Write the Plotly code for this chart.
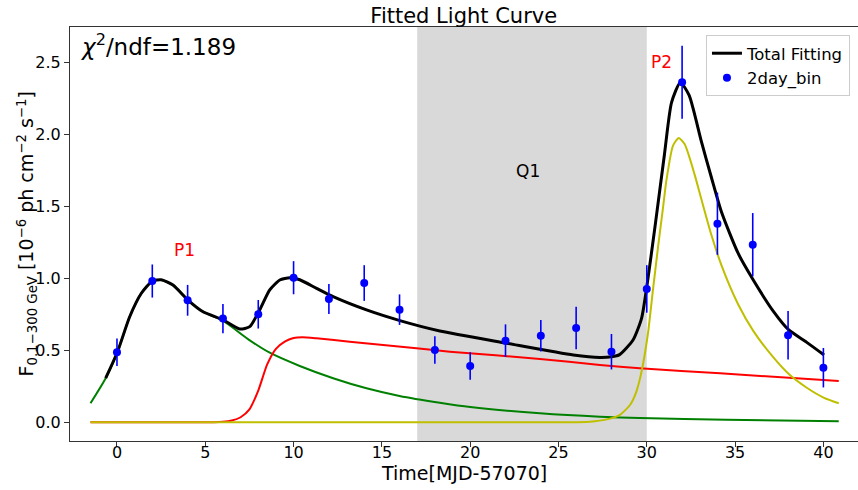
import plotly.graph_objects as go

# ---- data ----
bin_t = [0, 2, 4, 6, 8, 10, 12, 14, 16, 18, 20, 22, 24, 26, 28, 30, 32, 34, 36, 38, 40]
bin_flux = [0.486, 0.981, 0.847, 0.720, 0.750, 1.004, 0.856, 0.967, 0.782, 0.502, 0.391,
            0.567, 0.601, 0.655, 0.490, 0.926, 2.361, 1.379, 1.233, 0.604, 0.379]
bin_err = [0.095, 0.115, 0.107, 0.102, 0.099, 0.115, 0.104, 0.124, 0.106, 0.096, 0.096,
           0.113, 0.110, 0.147, 0.123, 0.165, 0.254, 0.216, 0.220, 0.168, 0.137]

p1_t = [-1.5, -0.64, 0.02, 0.72, 1.38, 2.0, 2.5, 3.17, 4.02, 4.87, 6.0, 7.52, 8.65,
        10.35, 12.24, 14.13, 16.0, 18.28, 20.0, 23.95, 27.35, 29.6, 34.5, 40.87]
p1_flux = [0.132, 0.306, 0.486, 0.733, 0.896, 0.981, 0.988, 0.953, 0.849, 0.768, 0.705,
           0.569, 0.483, 0.391, 0.306, 0.236, 0.183, 0.136, 0.106, 0.0625, 0.039, 0.030,
           0.018, 0.007]

q_t = [-1.5, 5.5, 6.0, 6.5, 7.0, 7.5, 8.0, 8.5, 9.0, 9.5, 10.0, 10.5, 11.3, 13.18,
       16.96, 18.85, 23.95, 27.35, 29.6, 34.15, 40.87]
q_flux = [0.0, 0.0, 0.003, 0.012, 0.035, 0.09, 0.22, 0.40, 0.51, 0.56, 0.585, 0.59, 0.583,
          0.560, 0.514, 0.490, 0.440, 0.398, 0.375, 0.340, 0.287]

p2_t = [-1.5, 20.0, 25.0, 26.78, 27.73, 28.46, 29.05, 29.4, 29.7, 30.07, 30.35, 30.64,
        30.92, 31.11, 31.48, 31.81, 32.15, 32.71, 33.09, 33.66, 34.23, 35.17, 36.03, 37.17,
        38.04, 39.06, 40.04, 40.87]
p2_flux = [0.0, 0.0, 0.0, 0.004, 0.02, 0.05, 0.12, 0.21, 0.35, 0.62, 0.92, 1.22,
           1.49, 1.68, 1.92, 1.975, 1.93, 1.72, 1.55, 1.30, 1.09, 0.82, 0.635, 0.45,
           0.335, 0.24, 0.17, 0.132]

tot_t = [-0.64, 0.02, 0.72, 1.38, 2.0, 2.5, 3.17, 4.02, 4.87, 6.0, 6.95, 7.52, 8.08,
         8.65, 9.22, 9.79, 10.35, 11.3, 12.24, 14.13, 16.02, 18.28, 22.06, 25.84, 27.35,
         28.0, 28.46, 29.22, 29.7, 30.0, 30.5, 31.0, 31.4, 31.9, 32.4, 33.09, 33.66,
         34.23, 35.17, 36.03, 37.17, 38.04, 39.06, 40.04]
tot_flux = [0.306, 0.486, 0.733, 0.896, 0.981, 0.99, 0.953, 0.849, 0.768, 0.712, 0.648,
            0.664, 0.78, 0.919, 0.988, 1.004, 0.99, 0.93, 0.872, 0.78, 0.706, 0.634, 0.549,
            0.467, 0.45, 0.455, 0.47, 0.571, 0.72, 0.94, 1.39, 1.86, 2.22, 2.36, 2.27,
            1.95, 1.70, 1.46, 1.174, 0.988, 0.77, 0.641, 0.555, 0.467]

Q1_START, Q1_END = 17, 30
X_RANGE = [-2.66, 41.96]
Y_RANGE = [-0.130, 2.745]

FONT = "DejaVu Sans"
SMOOTH = 0.6

fig = go.Figure()

fig.add_vrect(x0=Q1_START, x1=Q1_END, fillcolor="#d9d9d9", line_width=0, layer="below")

fig.add_trace(go.Scatter(x=p1_t, y=p1_flux, mode="lines", showlegend=False,
                         line=dict(color="#008000", width=2, shape="spline", smoothing=SMOOTH)))
fig.add_trace(go.Scatter(x=q_t, y=q_flux, mode="lines", showlegend=False,
                         line=dict(color="#ff0000", width=2, shape="spline", smoothing=SMOOTH)))
fig.add_trace(go.Scatter(x=p2_t, y=p2_flux, mode="lines", showlegend=False,
                         line=dict(color="#bfbf00", width=2, shape="spline", smoothing=SMOOTH)))
fig.add_trace(go.Scatter(x=tot_t, y=tot_flux, mode="lines", name="Total Fitting",
                         line=dict(color="black", width=3, shape="spline", smoothing=SMOOTH)))
fig.add_trace(go.Scatter(x=bin_t, y=bin_flux, mode="markers", name="2day_bin",
                         marker=dict(color="blue", size=8),
                         error_y=dict(type="data", array=bin_err, color="blue",
                                      thickness=1.6, width=0)))

fig.add_annotation(x=0, y=1, xref="paper", yref="paper", xanchor="left", yanchor="top",
                   xshift=8, yshift=-1, showarrow=False,
                   text="<i>χ</i><sup>2</sup>/ndf=1.189", font=dict(size=23, color="black", family=FONT))
fig.add_annotation(x=23.27, y=1.745, text="Q1", showarrow=False,
                   font=dict(size=17, color="black", family=FONT))
fig.add_annotation(x=3.84, y=1.197, text="P1", showarrow=False,
                   font=dict(size=17, color="red", family=FONT))
fig.add_annotation(x=30.86, y=2.50, text="P2", showarrow=False,
                   font=dict(size=17, color="red", family=FONT))
fig.add_annotation(x=0, y=0.5, xref="paper", yref="paper", xshift=-59, textangle=-90,
                   showarrow=False, font=dict(size=19, color="black", family=FONT),
                   text="F<sub>0.1\u2212300 GeV</sub> [10<sup>\u22126</sup> ph cm<sup>\u22122</sup> s<sup>\u22121</sup>]")
fig.add_annotation(x=0.5, y=0, xref="paper", yref="paper", yanchor="middle", yshift=-32,
                   showarrow=False, font=dict(size=19, color="black", family=FONT),
                   text="Time[MJD-57070]")

fig.update_layout(
    width=858, height=490,
    margin=dict(l=70, r=0, t=27, b=49),
    paper_bgcolor="white", plot_bgcolor="white",
    font=dict(family=FONT, size=16, color="black"),
    title=dict(text="Fitted Light Curve", x=0.5405, xanchor="center", y=0.969, yanchor="middle",
               font=dict(size=21, family=FONT, color="black")),
    showlegend=True,
    legend=dict(x=0.9898, y=0.9807, xanchor="right", yanchor="top",
                bgcolor="rgba(255,255,255,0.8)", bordercolor="#cccccc", borderwidth=1,
                font=dict(size=16.5, family=FONT, color="black"), traceorder="normal"),
)
fig.update_xaxes(range=X_RANGE, showgrid=False, zeroline=False, showline=True, mirror=True,
                 linecolor="#333333", linewidth=1.2, ticks="outside", ticklen=5, tickcolor="#333333",
                 tickvals=[0, 5, 10, 15, 20, 25, 30, 35, 40], ticklabelstandoff=-8)
fig.update_yaxes(range=Y_RANGE, showgrid=False, zeroline=False, showline=True, mirror=False,
                 linecolor="#333333", linewidth=1.2, ticks="outside", ticklen=5, tickcolor="#333333",
                 tickvals=[0, 0.5, 1.0, 1.5, 2.0, 2.5], ticktext=["0.0", "0.5", "1.0", "1.5", "2.0", "2.5"])

fig.write_html("out.html")
